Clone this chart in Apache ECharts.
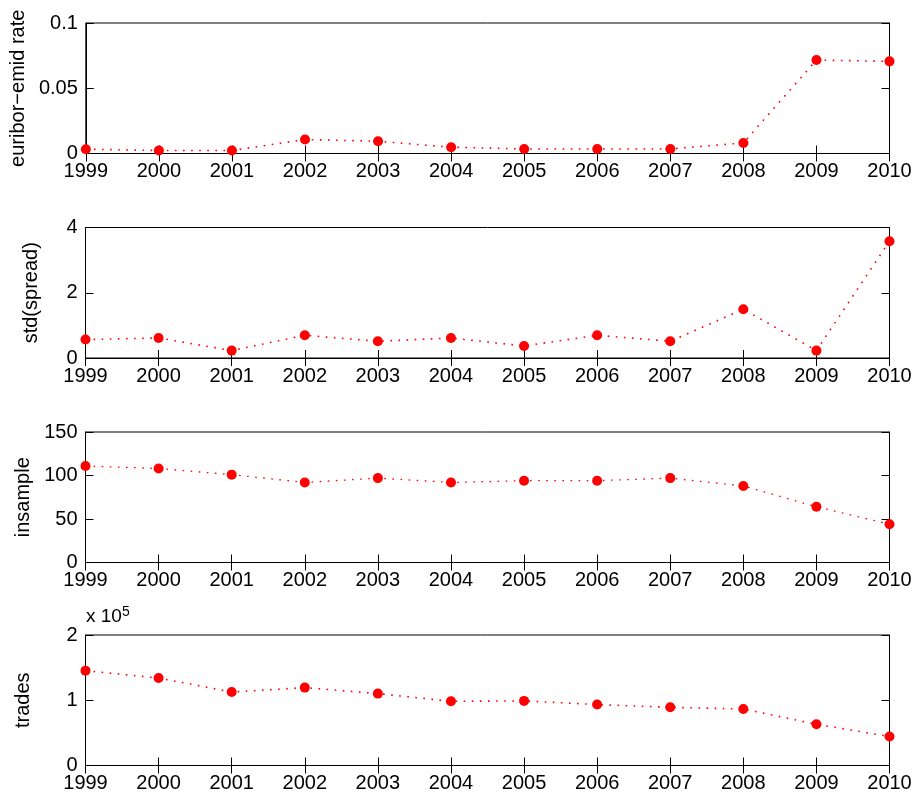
<!DOCTYPE html>
<html>
<head>
<meta charset="utf-8">
<script src="https://cdn.jsdelivr.net/npm/echarts@6/dist/echarts.min.js"></script>
<style>
  html, body { margin: 0; padding: 0; background: #fff; }
  #chart { width: 917px; height: 794px; }
</style>
</head>
<body>
<div id="chart"></div>
<script>
// ---- data ----
const years = ['1999','2000','2001','2002','2003','2004','2005','2006','2007','2008','2009','2010'];
const euriborEmidRate = [0.0033, 0.0023, 0.0023, 0.0107, 0.0094, 0.0048, 0.0035, 0.0035, 0.0035, 0.0081, 0.0716, 0.0706];
const stdSpread = [0.565, 0.614, 0.227, 0.697, 0.513, 0.614, 0.368, 0.697, 0.513, 1.495, 0.227, 3.58];
const insample = [111, 108, 101, 92, 97, 92, 94, 94, 97, 88, 64, 44];
const trades = [145400, 134000, 112600, 119400, 110200, 98400, 99000, 93400, 89200, 86600, 63200, 44400];

const panelNames = ['euribor\u2212emid rate', 'std(spread)', 'insample', 'trades'];
const panelData = [euriborEmidRate, stdSpread, insample, trades];
const yMin = [0, 0, 0, 0];
const yMax = [0.1, 4, 150, 200000];
const yStep = [0.05, 2, 50, 100000];

// ---- layout / style ----
const FONT = 'Liberation Sans, Arial, Helvetica, sans-serif';
const FS = 20;
const gridTops = [23, 227.5, 432, 635];
const gridH = 130.5;
const nameGaps = [52, 44, 50, 52];
const lineWidths = [1.6, 1.6, 1.3, 1.6];

const grids = [], xAxes = [], yAxes = [], series = [];
for (let i = 0; i < 4; i++) {
  grids.push({
    left: 85.5, width: 804, top: gridTops[i], height: gridH,
    show: true, borderColor: '#000', borderWidth: 1, backgroundColor: 'transparent'
  });
  const tickStyle = { show: true, inside: true, length: 8, lineStyle: { color: '#000', width: 1 } };
  xAxes.push({
    type: 'category', gridIndex: i, position: 'bottom', data: years, boundaryGap: false,
    axisLine: { lineStyle: { color: '#000', width: 1 } },
    axisTick: Object.assign({ interval: 0 }, tickStyle),
    axisLabel: { interval: 0, color: '#000', fontSize: FS, fontFamily: FONT, margin: 8 },
    splitLine: { show: false }
  });
  xAxes.push({
    type: 'category', gridIndex: i, position: 'top', data: years, boundaryGap: false,
    axisLine: { lineStyle: { color: '#000', width: 1 } },
    axisTick: Object.assign({ interval: 0 }, tickStyle),
    axisLabel: { show: false }, splitLine: { show: false }
  });
  const fmt = i === 3 ? (v => String(v / 1e5)) : undefined;
  yAxes.push({
    type: 'value', gridIndex: i, position: 'left',
    min: yMin[i], max: yMax[i], interval: yStep[i],
    name: panelNames[i], nameLocation: 'middle', nameGap: nameGaps[i], nameRotate: 90,
    nameTextStyle: { color: '#000', fontSize: FS, fontFamily: FONT },
    axisLine: { show: true, lineStyle: { color: '#000', width: 1 } },
    axisTick: tickStyle,
    axisLabel: { color: '#000', fontSize: FS, fontFamily: FONT, margin: 8, formatter: fmt },
    splitLine: { show: false }
  });
  yAxes.push({
    type: 'value', gridIndex: i, position: 'right',
    min: yMin[i], max: yMax[i], interval: yStep[i],
    axisLine: { show: true, lineStyle: { color: '#000', width: 1 } },
    axisTick: tickStyle,
    axisLabel: { show: false }, splitLine: { show: false }
  });
  series.push({
    type: 'line', xAxisIndex: 2 * i, yAxisIndex: 2 * i,
    data: panelData[i],
    symbol: 'circle', symbolSize: 10, showSymbol: true, clip: false,
    itemStyle: { color: '#ff0000' },
    lineStyle: { color: '#ff0000', width: lineWidths[i], type: [1.6, 6.5] },
    animation: false, silent: true
  });
}

const chart = echarts.init(document.getElementById('chart'), null, { renderer: 'canvas' });
chart.setOption({
  animation: false,
  backgroundColor: '#fff',
  grid: grids,
  xAxis: xAxes,
  yAxis: yAxes,
  series: series,
  graphic: [{
    type: 'text', left: 86, top: 605,
    style: {
      text: 'x 10{sup|5}',
      fill: '#000', fontSize: 19, fontFamily: FONT,
      rich: { sup: { fontSize: 14, fontFamily: FONT, fill: '#000', verticalAlign: 'top', padding: [0, 0, 10, 0] } }
    }
  }]
});
</script>
</body>
</html>
